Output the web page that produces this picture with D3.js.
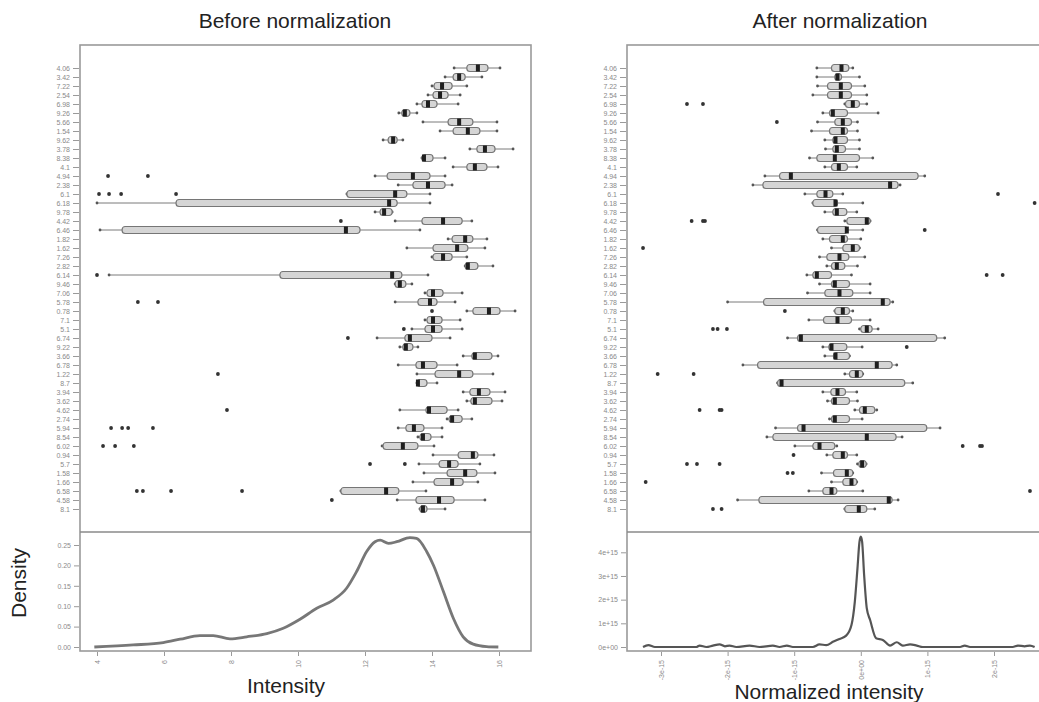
<!DOCTYPE html>
<html>
<head>
<meta charset="utf-8">
<script src="https://d3js.org/d3.v7.min.js"></script>
<style>
  body { margin: 0; background: #fff; }
  svg { display: block; font-family: "Liberation Sans", Arial, sans-serif; }
</style>
</head>
<body>
<div id="vizcont"></div>
<script>
// sample names, top to bottom
var rowLabels = ["4.06","3.42","7.22","2.54","6.98","9.26","5.66","1.54","9.62","3.78",
  "8.38","4.1","4.94","2.38","6.1","6.18","9.78","4.42","6.46","1.82",
  "1.62","7.26","2.82","6.14","9.46","7.06","5.78","0.78","7.1","5.1",
  "6.74","9.22","3.66","6.78","1.22","8.7","3.94","3.62","4.62","2.74",
  "5.94","8.54","6.02","0.94","5.7","1.58","1.66","6.58","4.58","8.1"];

// before normalization: [low whisker, q1, median, q3, high whisker]
var beforeBoxes = [
  [14.66,15.04,15.37,15.67,16.03],[14.39,14.63,14.81,14.99,15.49],[14.00,14.06,14.30,14.60,15.04],
  [13.88,14.03,14.24,14.48,14.84],[13.55,13.70,13.88,14.15,14.78],[13.01,13.10,13.19,13.34,13.55],
  [13.73,14.48,14.81,15.22,15.94],[14.24,14.63,15.07,15.43,15.94],[12.54,12.69,12.84,12.96,13.13],
  [15.13,15.34,15.58,15.88,16.42],[13.70,13.70,13.76,14.03,14.39],[14.63,15.04,15.28,15.64,15.97],
  [12.30,12.66,13.43,13.94,14.39],[12.99,13.43,13.88,14.39,14.60],[11.46,11.46,12.90,13.25,13.94],
  [4.00,6.36,12.72,12.96,13.94],[12.30,12.45,12.57,12.81,12.81],[12.90,13.70,14.33,14.90,15.19],
  [4.09,4.75,11.43,11.85,13.64],[14.48,14.60,14.99,15.22,15.64],[13.25,14.03,14.75,15.07,15.58],
  [14.00,14.03,14.33,14.60,15.04],[14.99,14.99,15.07,15.37,15.82],[4.36,9.46,12.81,13.10,13.88],
  [12.90,12.90,13.04,13.22,13.40],[13.79,13.85,14.03,14.33,14.90],[12.90,13.58,13.94,14.15,14.69],
  [15.04,15.22,15.70,16.03,16.48],[13.79,13.85,14.03,14.30,14.84],[13.40,13.79,14.03,14.30,14.90],
  [12.36,13.19,13.34,14.00,14.54],[13.04,13.13,13.22,13.43,13.58],[14.93,15.19,15.28,15.79,15.97],
  [12.99,13.52,13.73,14.15,14.75],[13.55,14.09,14.81,15.22,15.82],[13.55,13.55,13.58,13.85,14.15],
  [14.93,15.13,15.40,15.73,16.18],[15.04,15.16,15.28,15.79,16.09],[13.04,13.82,13.91,14.45,14.78],
  [14.45,14.51,14.60,14.90,15.19],[12.99,13.22,13.46,13.76,14.30],[13.58,13.64,13.73,13.97,14.30],
  [12.51,12.54,13.13,13.58,14.06],[14.03,14.78,15.22,15.37,15.85],[13.61,14.21,14.51,14.78,15.43],
  [13.76,14.45,14.99,15.34,15.88],[13.43,14.06,14.60,14.93,15.37],[11.28,11.28,12.63,13.01,13.82],
  [12.96,13.52,14.21,14.66,15.58],[13.64,13.64,13.73,13.85,14.39]
];
var beforeOutliers = [
  [],[],[],[],[],[],[],[],[],[],
  [],[],[4.33,5.52],[],[4.06,4.36,4.72,6.36],[],[],[11.28],[],[],
  [],[],[],[4.00],[],[],[5.22,5.82],[14.00],[],[13.16],
  [11.49],[],[],[],[7.61],[],[],[],[7.88],[],
  [4.42,4.75,4.93,5.67],[],[4.18,4.54,5.10],[],[12.15,13.19],[],[],[5.19,5.37,6.21,8.33],[11.01],[]
];

// after normalization, in units of 1e-15
var afterBoxes = [
  [-0.66,-0.44,-0.29,-0.18,-0.12],[-0.66,-0.39,-0.35,-0.29,-0.02],[-0.65,-0.50,-0.30,-0.14,0.06],
  [-0.72,-0.50,-0.30,-0.14,0.09],[-0.24,-0.23,-0.12,-0.02,0.09],[-0.57,-0.47,-0.42,-0.20,0.26],
  [-0.65,-0.39,-0.27,-0.14,-0.05],[-0.74,-0.47,-0.27,-0.20,-0.05],[-0.54,-0.42,-0.38,-0.20,-0.02],
  [-0.53,-0.42,-0.36,-0.23,-0.02],[-0.77,-0.66,-0.39,-0.02,0.18],[-0.54,-0.44,-0.33,-0.20,-0.06],
  [-1.44,-1.22,-1.05,0.86,0.96],[-1.62,-1.47,0.44,0.56,0.59],[-0.84,-0.66,-0.53,-0.42,-0.27],
  [-0.72,-0.72,-0.38,-0.35,0.03],[-0.54,-0.42,-0.36,-0.21,-0.06],[-0.24,-0.21,0.09,0.14,0.14],
  [-0.65,-0.65,-0.21,-0.20,0.03],[-0.57,-0.47,-0.27,-0.20,0.00],[-0.44,-0.27,-0.12,-0.02,-0.02],
  [-0.62,-0.51,-0.32,-0.18,0.06],[-0.51,-0.44,-0.36,-0.24,-0.05],[-0.81,-0.72,-0.66,-0.44,-0.14],
  [-0.62,-0.44,-0.39,-0.17,0.14],[-0.80,-0.54,-0.32,-0.12,0.14],[-2.00,-1.46,0.33,0.44,0.48],
  [-0.39,-0.39,-0.27,-0.17,-0.12],[-0.78,-0.56,-0.35,-0.14,0.14],[-0.02,0.00,0.09,0.17,0.26],
  [-1.10,-0.95,-0.90,1.14,1.26],[-0.57,-0.48,-0.44,-0.21,0.02],[-0.54,-0.41,-0.38,-0.17,-0.17],
  [-1.77,-1.55,0.24,0.47,0.54],[-0.24,-0.17,-0.06,0.03,0.03],[-1.25,-1.25,-1.19,0.66,0.78],
  [-0.57,-0.45,-0.35,-0.23,-0.06],[-0.50,-0.44,-0.39,-0.17,-0.05],[-0.09,-0.02,0.06,0.21,0.24],
  [-0.47,-0.44,-0.39,-0.17,0.02],[-1.28,-0.95,-0.86,0.99,1.19],[-1.41,-1.32,0.09,0.53,0.62],
  [-0.99,-0.72,-0.62,-0.39,-0.36],[-0.51,-0.42,-0.27,-0.20,-0.06],[-0.05,-0.03,0.02,0.08,0.08],
  [-0.59,-0.41,-0.21,-0.12,-0.12],[-0.44,-0.27,-0.14,-0.06,-0.06],[-0.78,-0.57,-0.44,-0.36,0.03],
  [-1.85,-1.53,0.42,0.47,0.56],[-0.24,-0.24,-0.03,0.09,0.21]
];
var afterOutliers = [
  [],[],[],[],[-2.61,-2.37],[],[-1.26],[],[],[],
  [],[],[],[],[2.06],[2.61],[],[-2.54,-2.37,-2.34],[0.96],[],
  [-3.27],[],[],[1.89,2.13],[],[],[],[-1.14],[],[-2.22,-2.15,-2.01],
  [],[0.69],[],[],[-3.05,-2.51],[],[],[],[-2.42,-2.12,-2.09],[],
  [],[],[1.53,1.79,1.82],[-1.01],[-2.61,-2.46,-2.12],[-1.10,-1.02],[-3.23],[2.54],[],[-2.22,-2.09]
];

// density curves
var beforeDensX = [3.92,5.08,5.98,6.48,7.07,7.47,7.97,8.47,9.07,9.56,10.06,10.56,11.05,11.45,11.75,
  12.05,12.30,12.45,12.70,12.95,13.34,13.54,13.84,14.04,14.34,14.64,14.93,15.23,15.63,15.98];
var beforeDensY = [0.000,0.005,0.011,0.019,0.028,0.028,0.020,0.025,0.033,0.046,0.068,0.095,0.115,0.144,0.185,
  0.234,0.258,0.262,0.254,0.258,0.268,0.266,0.234,0.201,0.136,0.070,0.025,0.007,0.001,0.000];
var afterDensX = [-3.27,-3.19,-3.09,-2.82,-2.47,-2.42,-2.32,-2.22,-2.12,-2.04,-1.97,-1.87,-1.67,-1.52,-1.32,
  -1.22,-1.11,-1.02,-0.72,-0.62,-0.52,-0.41,-0.32,-0.22,-0.14,-0.09,-0.05,-0.02,0.00,0.02,0.05,0.09,0.14,
  0.23,0.33,0.44,0.54,0.63,0.74,0.84,0.93,1.19,1.49,1.56,1.64,2.28,2.36,2.46,2.54,2.61];
// in units of 1e+15
var afterDensY = [0,0.08,0,0,0,0.06,0,0.06,0.11,0.03,0.06,0,0.06,0,0.06,
  0,0.06,0,0,0.11,0.08,0.23,0.34,0.48,0.93,1.91,3.32,4.44,4.66,4.44,3.04,1.63,1.14,
  0.37,0.30,0.06,0.20,0.06,0.11,0.06,0,0,0,0.06,0,0,0.06,0.03,0.06,0];

// tick values
var beforeXTicks = [4, 6, 8, 10, 12, 14, 16];
var afterXTicks = [-3, -2, -1, 0, 1, 2];
var beforeDensTicks = [0, 0.05, 0.10, 0.15, 0.20, 0.25];
var afterDensTicks = [0, 1, 2, 3, 4];

var svg = d3.select("#vizcont")
    .append("svg")
    .attr("width", 1039)
    .attr("height", 702);

var topY = 45, splitY = 532, bottomY = 651, zeroY = 647;

var rowY = d3.scalePoint()
    .domain(d3.range(rowLabels.length))
    .range([68, 509]);

function styleAxis(ax) {
  ax.select(".domain").remove();
  ax.selectAll(".tick line").attr("stroke", "#9a9a9a");
  ax.selectAll(".tick text").attr("fill", "#8a8a8a").style("font-size", "7px");
}

function drawPanel(cfg) {
  var g = svg.append("g");
  var x = d3.scaleLinear().domain(cfg.xDomain).range(cfg.xRange);
  var yd = d3.scaleLinear().domain(cfg.dDomain).range([zeroY, cfg.dTop]);

  // title
  g.append("text")
      .attr("x", cfg.titleX)
      .attr("y", 28)
      .attr("text-anchor", "middle")
      .style("font-size", "21px")
      .style("fill", "#222")
      .text(cfg.title);

  // frames
  g.append("rect")
      .attr("x", cfg.left).attr("y", topY)
      .attr("width", cfg.right - cfg.left).attr("height", bottomY - topY)
      .attr("fill", "none").attr("stroke", "#9a9a9a").attr("stroke-width", 1.6);
  g.append("line")
      .attr("x1", cfg.left).attr("x2", cfg.right)
      .attr("y1", splitY).attr("y2", splitY)
      .attr("stroke", "#8a8a8a").attr("stroke-width", 1.4);

  // sample axis
  var ya = g.append("g")
      .attr("transform", "translate(" + (cfg.left - 1) + ",0)")
      .call(d3.axisLeft(rowY).tickSize(6).tickPadding(3)
        .tickFormat(function(i) { return rowLabels[i]; }));
  styleAxis(ya);

  // one group per sample
  var rows = g.selectAll("g.row")
      .data(cfg.boxes)
      .enter().append("g")
      .attr("class", "row")
      .attr("transform", function(d, i) { return "translate(0," + rowY(i) + ")"; });

  rows.append("line")
      .attr("x1", function(d) { return x(d[0]); })
      .attr("x2", function(d) { return x(d[4]); })
      .attr("stroke", "#7a7a7a").attr("stroke-width", 1);
  rows.append("circle")
      .attr("cx", function(d) { return x(d[0]); })
      .attr("r", 1.4).attr("fill", "#555");
  rows.append("circle")
      .attr("cx", function(d) { return x(d[4]); })
      .attr("r", 1.4).attr("fill", "#555");
  rows.append("rect")
      .attr("x", function(d) { return x(d[1]); })
      .attr("width", function(d) { return Math.max(x(d[3]) - x(d[1]), 3); })
      .attr("y", -3.5).attr("height", 7)
      .attr("rx", 3)
      .attr("fill", "#d5d5d5").attr("stroke", "#767676").attr("stroke-width", 1.2);
  rows.append("rect")
      .attr("x", function(d) { return x(d[2]) - 2; })
      .attr("width", 4)
      .attr("y", -3.5).attr("height", 7)
      .attr("fill", "#1e1e1e");

  // outliers
  rows.selectAll("circle.out")
      .data(function(d, i) { return cfg.outliers[i]; })
      .enter().append("circle")
      .attr("class", "out")
      .attr("cx", function(v) { return x(v); })
      .attr("r", 1.9)
      .attr("fill", "#333");

  // density curve
  var line = d3.line()
      .x(function(i) { return x(cfg.densX[i]); })
      .y(function(i) { return yd(cfg.densY[i]); })
      .curve(d3.curveMonotoneX);
  g.append("path")
      .datum(d3.range(cfg.densX.length))
      .attr("d", line)
      .attr("fill", "none")
      .attr("stroke", cfg.lineColor)
      .attr("stroke-width", cfg.lineWidth)
      .attr("stroke-linejoin", "round");

  // density y axis
  var dy = g.append("g")
      .attr("transform", "translate(" + (cfg.left - 1) + ",0)")
      .call(d3.axisLeft(yd).tickValues(cfg.dTicks).tickSize(5).tickPadding(3).tickFormat(cfg.dFmt));
  styleAxis(dy);

  // density x axis, labels turned
  var dx = g.append("g")
      .attr("transform", "translate(0," + (bottomY + 1) + ")")
      .call(d3.axisBottom(x).tickValues(cfg.xTicks).tickSize(4).tickFormat(cfg.xFmt));
  styleAxis(dx);
  dx.selectAll(".tick text")
      .attr("transform", "rotate(-90)")
      .attr("text-anchor", "end")
      .attr("x", -8)
      .attr("y", 0)
      .attr("dy", "0.32em");

  // x title
  g.append("text")
      .attr("x", cfg.xTitleX)
      .attr("y", cfg.xTitleY)
      .attr("text-anchor", "middle")
      .style("font-size", "21px")
      .style("fill", "#222")
      .text(cfg.xTitle);
}

drawPanel({
  title: "Before normalization", titleX: 295,
  left: 80, right: 531,
  xDomain: [4, 16], xRange: [97, 499],
  dDomain: [0, 0.25], dTop: 545,
  boxes: beforeBoxes, outliers: beforeOutliers,
  densX: beforeDensX, densY: beforeDensY,
  lineColor: "#777", lineWidth: 2.8,
  xTicks: beforeXTicks, xFmt: function(v) { return v; },
  dTicks: beforeDensTicks, dFmt: d3.format(".2f"),
  xTitle: "Intensity", xTitleX: 286, xTitleY: 693
});

drawPanel({
  title: "After normalization", titleX: 840,
  left: 627, right: 1050,
  xDomain: [-3, 2], xRange: [661, 994],
  dDomain: [0, 4], dTop: 552.3,
  boxes: afterBoxes, outliers: afterOutliers,
  densX: afterDensX, densY: afterDensY,
  lineColor: "#555", lineWidth: 2.2,
  xTicks: afterXTicks, xFmt: function(v) { return v === 0 ? "0e+00" : v + "e-15"; },
  dTicks: afterDensTicks, dFmt: function(v) { return v + "e+" + (v === 0 ? "00" : "15"); },
  xTitle: "Normalized intensity", xTitleX: 829, xTitleY: 699
});

// shared y title
svg.append("text")
    .attr("transform", "translate(26,583) rotate(-90)")
    .attr("text-anchor", "middle")
    .style("font-size", "21px")
    .style("fill", "#222")
    .text("Density");
</script>
</body>
</html>
